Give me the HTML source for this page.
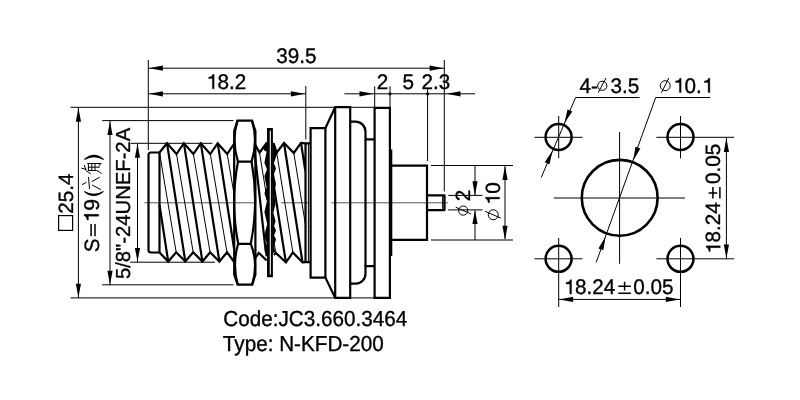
<!DOCTYPE html>
<html><head><meta charset="utf-8"><style>
html,body{margin:0;padding:0;background:#fff;width:800px;height:400px;overflow:hidden}
svg{display:block;filter:grayscale(1)}
text{text-rendering:geometricPrecision;font-family:"Liberation Sans",sans-serif;fill:#000;stroke:#000;stroke-width:0.35}
</style></head><body>
<svg width="800" height="400" viewBox="0 0 800 400">
<defs>
<path id="ar" d="M0,0 L13.9,-2.6 L13.9,2.6 Z"/>
<path id="one" d="M303,0 H388 V684 H325 C303,602 238,562 120,551 V483 H303 Z" stroke="#000" stroke-width="0.35" vector-effect="non-scaling-stroke"/>
</defs>
<g fill="none" stroke="#000" stroke-width="1" id="thin">
<!-- top dims -->
<path d="M148.3,60 V150"/>
<path d="M444.3,60 V191.5"/>
<path d="M148.5,68.2 H444.3"/>
<path d="M305.8,86 V139.5"/>
<path d="M148.5,93.8 H305.8"/>
<path d="M374.7,86.3 V108 M390,86.3 V108 M427.6,89 V161"/>
<path d="M344.4,93.8 H475"/>
<!-- left dims -->
<path d="M70.6,107.3 H375"/>
<path d="M102.2,120.6 H233.4"/>
<path d="M130.6,143.3 H212.4"/>
<path d="M130.2,262.2 H215"/>
<path d="M102.2,284.8 H233.5"/>
<path d="M70.6,297.9 H375"/>
<path d="M78.4,108 V298"/>
<path d="M110,121 V285"/>
<path d="M137.5,143.5 V262"/>
<!-- centre line -->
<path d="M144.4,202.8 H254.5 M281,202.8 H308.7 M331.3,202.8 H447.7" stroke="#555"/>
<!-- right dims of pin -->
<path d="M431,165.5 H513 M431,240 H513"/>
<path d="M448.2,195.4 H482.5 M448.2,209.9 H482.5"/>
<path d="M475,165.5 V195 M475,210.5 V240"/>
<path d="M505,166 V239"/>
</g>
<g fill="#000" id="arrows">
<use href="#ar" transform="translate(149,68.2)"/>
<use href="#ar" transform="translate(443.5,68.2) rotate(180)"/>
<use href="#ar" transform="translate(149,93.8)"/>
<use href="#ar" transform="translate(304.8,93.8) rotate(180)"/>
<use href="#ar" transform="translate(373.4,93.8) rotate(180)"/>
<use href="#ar" transform="translate(446.6,93.8)"/>
<circle cx="390" cy="93.8" r="1.6"/>
<circle cx="427.6" cy="93.8" r="1.6"/>
<use href="#ar" transform="translate(78.4,107.8) rotate(90)"/>
<use href="#ar" transform="translate(78.4,297.6) rotate(-90)"/>
<use href="#ar" transform="translate(110,121.2) rotate(90)"/>
<use href="#ar" transform="translate(110,284.6) rotate(-90)"/>
<use href="#ar" transform="translate(137.5,143.8) rotate(90)"/>
<use href="#ar" transform="translate(137.5,261.8) rotate(-90)"/>
<use href="#ar" transform="translate(475,195.2) rotate(-90)"/>
<use href="#ar" transform="translate(475,210.2) rotate(90)"/>
<use href="#ar" transform="translate(505,166) rotate(90)"/>
<use href="#ar" transform="translate(505,239.7) rotate(-90)"/>
</g>

<!-- connector body -->
<g fill="none" stroke="#000" stroke-width="2.2" stroke-linejoin="miter" id="body">
<!-- left plain end -->
<path d="M159.5,152.5 H151 Q148.5,152.5 148.5,155 V250 Q148.5,252.5 151,252.5 H159.5"/>
<path d="M159.5,152.5 V252.5"/>
<!-- thread outlines left -->
<path d="M159.5,152.5 L167,143.2 L176.5,154 L183.9,143.2 L193.4,154 L200.8,143.2 L210.3,154 L217.7,143.2 L227.2,154 L234.2,143.6"/>
<path d="M159.5,252.5 L168.2,261.5 L176.2,252.3 L185.3,261.5 L193.2,252.3 L202.4,261.5 L210.1,252.3 L219.4,261.5 L227,252.3 L234.2,262"/>
<path d="M167,143.2 L185.3,261.5 M183.9,143.2 L202.4,261.5 M200.8,143.2 L219.4,261.5 M217.7,143.2 L234.2,249.6 M159.5,205 L168.2,261.5"/>
<!-- thread right section -->
<path d="M255.4,145 L259.5,152.6 L267,142.5"/>
<path d="M273.5,143 L276.7,152.6 L284,143 L293.8,153 L301,142.8 L305.5,143.3 H310.5"/>
<path d="M255.4,258 L258.8,252.9 L266.6,260.4"/>
<path d="M274,255 L275.8,252.9 L285.9,262.4 L292.9,252.5 L302.5,262.4 L305.5,262.2 H310.5"/>
<path d="M284,143 L302.5,262.4 M301,142.8 L305.5,172 M305.5,143.3 V262.2 M267,142.5 L285.9,262.4"/>
<!-- hex nut -->
<path d="M234.2,131 L237.5,120.6 H252 L255.4,131 V274.5 L252.2,284.6 H237.7 L234.2,274.5 Z"/>
<path d="M237.5,120.6 Q231.3,140.6 238,161.6 H251.6 Q258.2,140.6 252,120.6"/>
<path d="M238,161.6 Q230.2,202.5 238.2,243.8 H250.8 Q259,202.5 251.6,161.6"/>
<path d="M254.8,153 L265.8,252"/>
<path d="M238.2,243.8 Q232,264 237.7,284.6 M250.8,243.8 Q258.6,264 252.2,284.6"/>
<!-- flanges -->
<path d="M310.6,277.6 V128.1 H325.4 L335.2,107.2 H350.2 V297.9 H335.2 L325.4,277.6 Z"/>
<path d="M325.4,128.1 V277.6 M335.2,107.2 V297.9"/>
<path d="M350.2,121.7 H355.5 A10,10 0 0 1 365.5,131.7 V139.3 H374.6"/>
<path d="M350.2,283.7 H355.5 A10,10 0 0 0 365.5,273.7 V266.2 H374.6"/>
<path d="M365.5,139.3 V266.2"/>
<path d="M374.6,107.9 H389.9 V297.9 H374.6 Z"/>
<path d="M391.2,149.5 V256"/>
<path d="M391.2,165.6 H427 V239.9 H391.2"/>
<path d="M427,195.3 H444.5 V210.1 H427" stroke-linejoin="round"/>
<path d="M442.7,196 V209.4" stroke-width="1.2"/>
</g>
<g fill="none" stroke="#000" stroke-width="1" id="thinbody">
<path d="M159.5,152.5 L176.2,252.3 M176.5,154 L193.2,252.3 M193.4,154 L210.1,252.3 M210.3,154 L227,252.3 M227.2,154 L234.2,195"/>
<path d="M259.5,152.6 L275.8,252.9 M276.7,152.6 L292.9,252.5 M293.8,153 L306,228"/>
<path d="M308.4,143.3 V262.2"/>
</g>
<!-- washer -->
<rect x="267" y="128" width="5.9" height="149.2" fill="#000"/>
<rect x="269.75" y="130.6" width="1.1" height="144" fill="#fff"/>
<path fill="#000" d="M267.2,141.5 L263.2,148.5 L264.8,151 L266.6,151.5 L264.4,162.7 L267,169.5 L264.4,176 L266.6,187.5 L264.4,193.2 L267,201.1 L264.4,212.1 L267.2,224.2 L265.2,231.7 L264.6,236.7 L266.6,243 L264.8,249 L265.4,255.5 L267.2,257 Z"/>
<path fill="#000" d="M272.8,141.5 L276.9,152.5 L277,153.8 L273.9,163.2 L276,168.5 L273.9,174.2 L276,184.3 L273.9,192.7 L275.6,203.2 L273.4,212.7 L275.6,221 L274.1,226 L276,230.5 L274.1,235.5 L276,239.3 L274,246 L275.2,251.5 L272.8,253.6 Z"/>

<!-- right view -->
<g fill="none" stroke="#000" stroke-width="1">
<path d="M534.5,137.3 H582.5 M656.4,137.3 H734 M534.5,258.8 H582.5 M656.4,258.8 H734"/>
<path d="M558.7,116 V158.3 M680.5,116 V158.3 M558.7,238 V307 M680.5,238 V307"/>
<path d="M553.8,198 H685 M619.6,132 V263.8"/>
<path d="M558.7,299.4 H680.5"/>
<path d="M726.4,138 V258.5"/>
<path d="M639.6,97.5 H575.6 L541.2,177.5"/>
<path d="M710.2,97.5 H655.7 L596.2,262.3"/>
</g>
<g fill="none" stroke="#000" stroke-width="2.5">
<circle cx="558.6" cy="137" r="13"/>
<circle cx="680.5" cy="137" r="13"/>
<circle cx="558.6" cy="258.8" r="13"/>
<circle cx="680.5" cy="258.8" r="13"/>
<circle cx="619.7" cy="197.8" r="37.9" stroke-width="2.6"/>
</g>
<g fill="#000">
<use href="#ar" transform="translate(559.2,299.4)"/>
<use href="#ar" transform="translate(679.7,299.4) rotate(180)"/>
<use href="#ar" transform="translate(726.4,138) rotate(90)"/>
<use href="#ar" transform="translate(726.4,258.4) rotate(-90)"/>
<use href="#ar" transform="translate(564.4,123.2) rotate(-66.7)"/>
<use href="#ar" transform="translate(552.6,150.4) rotate(113.3)"/>
<use href="#ar" transform="translate(633.2,160.6) rotate(-70.15)"/>
<use href="#ar" transform="translate(605.6,236.4) rotate(109.85)"/>
</g>

<!-- texts -->
<g>
<text transform="translate(276.3,63.4) scale(1,1.02)" font-size="20.7">39.5</text>
<g transform="translate(206.1,88.8) scale(1,1.02)"><text font-size="20.7"><tspan style="fill:none;stroke:none">1</tspan>8.2</text><use href="#one" transform="translate(0.00,0) scale(0.02070,-0.02070)"/></g>
<text transform="translate(376.8,88.8) scale(1,1.02)" font-size="20.7">2</text>
<text transform="translate(402.5,88.8) scale(1,1.02)" font-size="20.7">5</text>
<text transform="translate(421.6,88.8) scale(1,1.02)" font-size="20.7">2.3</text>
<text transform="translate(579.4,92.6) scale(1,1.02)" font-size="20.7">4-</text>
<text transform="translate(610.5,92.6) scale(1,1.02)" font-size="20.7">3.5</text>
<g transform="translate(673.1,92.6) scale(1,1.02)"><text font-size="20.7"><tspan style="fill:none;stroke:none">1</tspan>0.<tspan style="fill:none;stroke:none">1</tspan></text><use href="#one" transform="translate(0.00,0) scale(0.02070,-0.02070)"/><use href="#one" transform="translate(28.75,0) scale(0.02070,-0.02070)"/></g>
<g transform="translate(563.5,294.1) scale(1,1.02)"><text font-size="20.7"><tspan style="fill:none;stroke:none">1</tspan>8.24</text><use href="#one" transform="translate(0.00,0) scale(0.02070,-0.02070)"/></g>
<text transform="translate(633.2,294.1) scale(1,1.02)" font-size="20.7">0.05</text>
<text transform="translate(223.2,325.6) scale(1,1.05)" font-size="20.7">Code:JC3.660.3464</text>
<text transform="translate(222.8,350.5) scale(1,1.05)" font-size="20.7">Type: N-KFD-200</text>
<text transform="translate(73.2,213.8) rotate(-90)" font-size="20.7">25.4</text>
<text transform="translate(98.7,252.3) rotate(-90)" font-size="20.7">S</text>
<g transform="translate(98.7,222.6) rotate(-90)"><text font-size="21.3"><tspan style="fill:none;stroke:none">1</tspan>9</text><use href="#one" transform="translate(0.00,0) scale(0.02130,-0.02130)"/></g>
<text transform="translate(130.2,279.1) rotate(-90)" font-size="20.25">5/8&quot;-24UNEF-2A</text>
<g transform="translate(720.3,253.9) rotate(-90)"><text font-size="20.7"><tspan style="fill:none;stroke:none">1</tspan>8.24</text><use href="#one" transform="translate(0.00,0) scale(0.02070,-0.02070)"/></g>
<text transform="translate(720.3,184.1) rotate(-90)" font-size="20.7">0.05</text>
<text transform="translate(470.3,201.3) rotate(-90)" font-size="20.7">2</text>
<g transform="translate(499.6,205.2) rotate(-90)"><text font-size="20.7"><tspan style="fill:none;stroke:none">1</tspan>0</text><use href="#one" transform="translate(0.00,0) scale(0.02070,-0.02070)"/></g>
</g>
<!-- plus-minus -->
<g fill="none" stroke="#000" stroke-width="1.5">
<path d="M618.3,286.2 H630.9 M624.6,281.8 V290.6 M618.3,293.3 H630.9"/>
<path d="M712.9,187.1 V198.4 M708.6,192.9 H717.2 M719.9,187.1 V198.4"/>
<path d="M91.1,224 V236.3 M95,224 V236.3"/>
</g>
<!-- parens -->
<path fill="#000" d="M83.9,191.8 Q93.8,200.4 103.7,191.8 L103.2,190.9 Q93.8,196.6 84.4,190.9 Z"/>
<path fill="#000" d="M84.1,159.1 Q94,150.6 103.9,159.1 L103.4,160 Q94,154.4 84.6,160 Z"/>
<!-- square symbol -->
<rect x="58.6" y="215.6" width="14" height="14.8" fill="none" stroke="#000" stroke-width="1.2"/>
<!-- diameter symbols -->
<g fill="none" stroke="#000" stroke-width="1">
<circle cx="602.3" cy="85.8" r="4.6"/>
<path d="M598.2,92.6 L606,78"/>
<circle cx="665.2" cy="85.7" r="5"/>
<path d="M661.4,92.8 L668.8,78"/>
<circle cx="463.25" cy="210.6" r="4.6"/>
<path d="M455.75,207.25 L470.75,213.75"/>
<circle cx="493.25" cy="214.75" r="5"/>
<path d="M485,211.25 L500.75,218.1"/>
</g>
<!-- 六角 rotated -->
<g fill="none" stroke="#000" stroke-width="1" stroke-linecap="round">
<path d="M82.3,184.5 L86.1,182.5 M88.5,177.4 L89.5,188.6 M92,181.5 L99.4,177.4 M92.4,185.1 L100.6,189.5"/>
<path d="M87.6,163.5 H101 M88.4,163.5 V170.6 M88.4,170.5 H96.5 Q99.8,171 101.4,173.7 M88.4,167.2 H99.3 M91.8,163.6 V170.4 M95,163.6 V170.4 M100.6,163.6 L99,166 M81.8,168.3 L86,169.4 M84.3,165.4 L85.8,169.6 M86,170.6 L90.4,173.7"/>
</g>
</svg>
</body></html>
